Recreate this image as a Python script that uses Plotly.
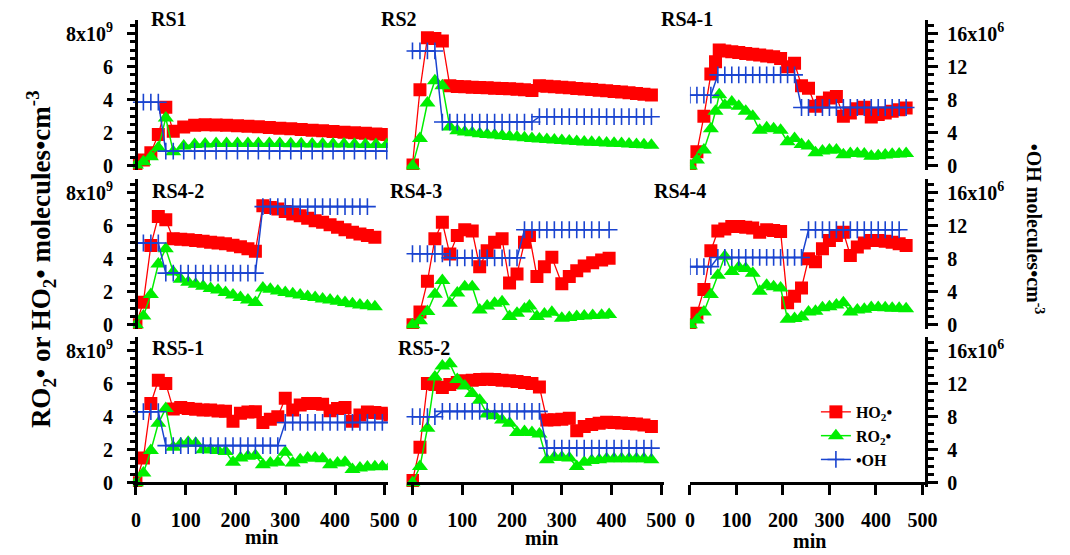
import plotly.graph_objects as go

W, H = 1070, 555

# HO2 and RO2 in units of 1e9 molecules cm-3, OH in units of 1e6 molecules cm-3, time in min

# RS1
rs1_t = [0, 15, 30, 45, 60, 75, 96, 118, 139, 161, 182, 204, 225, 246, 268, 289, 311, 332, 354, 375, 396, 418, 439, 461, 482, 504]
rs1_ho2 = [0.1, 0.35, 0.8, 1.9, 3.55, 2.1, 2.35, 2.45, 2.48, 2.47, 2.45, 2.42, 2.39, 2.36, 2.32, 2.28, 2.24, 2.2, 2.16, 2.12, 2.08, 2.04, 2.0, 1.97, 1.93, 1.9]
rs1_ro2 = [0.05, 0.25, 0.55, 1.1, 2.9, 0.85, 1.2, 1.3, 1.33, 1.35, 1.35, 1.35, 1.35, 1.35, 1.35, 1.35, 1.34, 1.34, 1.33, 1.33, 1.32, 1.32, 1.31, 1.3, 1.3, 1.3]
rs1_t_oh = rs1_t
rs1_oh = [7.7, 7.7, 7.7, 7.7, 1.78, 1.78, 1.78, 1.78, 1.78, 1.78, 1.78, 1.78, 1.78, 1.78, 1.78, 1.78, 1.78, 1.78, 1.78, 1.78, 1.78, 1.78, 1.78, 1.78, 1.78, 1.78]

# RS2
rs2_t = [0, 15, 30, 45, 60, 75, 90, 105, 120, 135, 150, 165, 180, 195, 210, 225, 240, 255, 270, 285, 300, 315, 330, 345, 360, 375, 390, 405, 420, 435, 450, 465, 480]
rs2_ho2 = [0.05, 4.6, 7.75, 7.7, 7.55, 4.85, 4.8, 4.78, 4.76, 4.74, 4.72, 4.7, 4.68, 4.66, 4.63, 4.6, 4.56, 4.85, 4.82, 4.78, 4.75, 4.72, 4.68, 4.65, 4.62, 4.58, 4.54, 4.5, 4.46, 4.42, 4.38, 4.33, 4.28]
rs2_ro2 = [0.0, 1.65, 3.8, 5.15, 4.85, 2.35, 2.12, 2.05, 2.0, 1.95, 1.9, 1.86, 1.82, 1.78, 1.74, 1.7, 1.66, 1.63, 1.6, 1.57, 1.54, 1.51, 1.48, 1.45, 1.43, 1.41, 1.39, 1.37, 1.35, 1.33, 1.3, 1.28, 1.25]
rs2_t_oh = rs2_t
rs2_oh = [13.9, 13.9, 13.9, 13.9, 5.3, 5.3, 5.3, 5.3, 5.3, 5.3, 5.3, 5.3, 5.3, 5.3, 5.3, 5.3, 5.3, 5.95, 5.95, 5.95, 5.95, 5.95, 5.95, 5.95, 5.95, 5.95, 5.95, 5.95, 5.95, 5.95, 5.95, 5.95, 5.95]

# RS4-1
rs41_t = [0, 15, 30, 45, 55, 63, 75, 90, 105, 120, 135, 150, 165, 180, 195, 210, 225, 240, 255, 270, 285, 300, 315, 330, 345, 360, 375, 390, 405, 420, 435, 450, 465]
rs41_ho2 = [0.0, 0.85, 3.0, 5.55, 6.3, 7.0, 6.95, 6.9, 6.85, 6.8, 6.75, 6.7, 6.65, 6.6, 6.5, 6.0, 6.2, 4.85, 4.7, 3.6, 3.85, 4.1, 4.2, 3.0, 3.2, 3.45, 3.55, 2.95, 3.1, 3.2, 3.3, 3.4, 3.5]
rs41_ro2 = [0.0, 0.35, 0.96, 2.25, 3.3, 4.3, 3.67, 3.86, 3.6, 3.3, 3.0, 2.15, 2.3, 2.25, 2.15, 1.46, 1.66, 1.3, 1.2, 0.8, 0.9, 0.96, 0.96, 0.67, 0.75, 0.75, 0.72, 0.58, 0.62, 0.66, 0.7, 0.72, 0.75]
rs41_t_oh = [0, 15, 30, 45, 60, 75, 90, 105, 120, 135, 150, 165, 180, 195, 210, 225, 240, 255, 270, 285, 300, 315, 330, 345, 360, 375, 390, 405, 420, 435, 450, 465]
rs41_oh = [8.55, 8.55, 8.55, 8.55, 11.0, 11.0, 11.0, 11.0, 11.0, 11.0, 11.0, 11.0, 11.0, 11.0, 11.0, 11.0, 7.06, 7.06, 7.06, 7.06, 7.06, 7.06, 7.06, 7.06, 7.06, 7.06, 7.06, 7.06, 7.06, 7.06, 7.06, 7.06]

# RS4-2
rs42_t = [0, 15, 30, 45, 60, 75, 90, 105, 120, 135, 150, 165, 180, 195, 210, 225, 240, 255, 270, 285, 300, 315, 330, 345, 360, 375, 390, 405, 420, 435, 450, 465, 480]
rs42_ho2 = [0.0, 1.37, 4.8, 6.55, 6.35, 5.2, 5.18, 5.15, 5.1, 5.05, 5.0, 4.95, 4.9, 4.82, 4.72, 4.6, 4.45, 7.2, 7.1, 7.0, 6.85, 6.7, 6.6, 6.45, 6.3, 6.2, 6.05, 5.9, 5.75, 5.6, 5.5, 5.4, 5.3]
rs42_ro2 = [0.0, 0.54, 1.83, 3.68, 4.6, 3.2, 2.75, 2.57, 2.45, 2.33, 2.2, 2.1, 1.95, 1.8, 1.65, 1.5, 1.35, 2.23, 2.15, 2.05, 1.95, 1.88, 1.8, 1.72, 1.65, 1.57, 1.5, 1.42, 1.35, 1.28, 1.2, 1.15, 1.1]
rs42_t_oh = [0, 15, 30, 45, 60, 75, 90, 105, 120, 135, 150, 165, 180, 195, 210, 225, 240, 255, 270, 285, 300, 315, 330, 345, 360, 375, 390, 405, 420, 435, 450, 465]
rs42_oh = [9.9, 9.9, 9.9, 9.9, 6.25, 6.25, 6.25, 6.25, 6.25, 6.25, 6.25, 6.25, 6.25, 6.25, 6.25, 6.25, 6.25, 14.3, 14.3, 14.3, 14.3, 14.3, 14.3, 14.3, 14.3, 14.3, 14.3, 14.3, 14.3, 14.3, 14.3, 14.3]

# RS4-3
rs43_t = [0, 15, 30, 45, 60, 75, 90, 105, 120, 135, 150, 165, 180, 195, 210, 225, 235, 250, 265, 280, 300, 315, 330, 345, 362, 380, 395]
rs43_ho2 = [0.0, 0.78, 2.63, 5.2, 6.2, 4.28, 5.4, 5.75, 5.67, 3.52, 4.48, 5.0, 5.2, 2.53, 3.08, 5.0, 5.4, 2.93, 3.52, 4.08, 2.48, 2.93, 3.27, 3.56, 3.76, 3.92, 4.02]
rs43_ro2 = [0.0, 0.25, 0.8, 1.85, 2.68, 1.3, 1.93, 2.3, 2.3, 0.9, 1.14, 1.3, 1.4, 0.5, 0.7, 0.96, 1.14, 0.5, 0.66, 0.76, 0.4, 0.45, 0.5, 0.54, 0.56, 0.58, 0.62]
rs43_t_oh = [0, 15, 30, 45, 60, 75, 90, 105, 120, 135, 150, 165, 180, 195, 210, 225, 240, 255, 270, 285, 300, 315, 330, 345, 360, 375, 395]
rs43_oh = [8.6, 8.6, 8.6, 8.6, 8.6, 8.1, 8.1, 8.1, 8.1, 8.1, 8.1, 8.1, 8.1, 8.1, 8.1, 11.5, 11.5, 11.5, 11.5, 11.5, 11.5, 11.5, 11.5, 11.5, 11.5, 11.5, 11.5]

# RS4-4
rs44_t = [0, 15, 30, 45, 60, 75, 90, 105, 120, 135, 150, 165, 180, 195, 210, 225, 240, 255, 270, 285, 300, 315, 330, 345, 360, 375, 390, 405, 420, 435, 450, 465]
rs44_ho2 = [0.0, 0.7, 2.13, 4.48, 5.67, 5.8, 5.95, 5.95, 5.9, 5.85, 5.6, 5.75, 5.7, 5.65, 1.33, 1.73, 2.23, 4.0, 3.82, 4.6, 5.1, 5.4, 5.6, 4.2, 4.7, 4.95, 5.1, 5.1, 5.05, 5.0, 4.9, 4.8]
rs44_ro2 = [0.0, 0.3, 0.78, 1.83, 3.0, 4.15, 3.22, 3.48, 3.4, 3.12, 2.03, 2.4, 2.3, 2.23, 0.34, 0.38, 0.47, 0.78, 0.82, 1.03, 1.1, 1.2, 1.33, 0.78, 0.9, 0.95, 1.05, 1.05, 1.03, 1.0, 1.0, 0.98]
rs44_t_oh = [0, 15, 30, 45, 60, 75, 90, 105, 120, 135, 150, 165, 180, 195, 210, 225, 240, 255, 270, 285, 300, 315, 330, 345, 360, 375, 390, 405, 420, 435, 450]
rs44_oh = [7.04, 7.04, 7.04, 7.04, 8.15, 8.15, 8.15, 8.15, 8.15, 8.15, 8.15, 8.15, 8.15, 8.15, 8.15, 8.15, 8.15, 11.5, 11.5, 11.5, 11.5, 11.5, 11.5, 11.5, 11.5, 11.5, 11.5, 11.5, 11.5, 11.5, 11.5]

# RS5-1
rs51_t = [0, 15, 30, 45, 60, 75, 90, 105, 120, 135, 150, 165, 180, 195, 210, 225, 240, 255, 270, 285, 300, 315, 330, 345, 360, 375, 390, 405, 420, 435, 450, 465, 480, 495, 510]
rs51_ho2 = [0.0, 1.5, 4.8, 6.2, 6.0, 4.46, 4.55, 4.5, 4.45, 4.4, 4.4, 4.35, 4.33, 3.72, 4.2, 4.28, 4.3, 3.65, 3.85, 4.0, 5.12, 4.4, 4.7, 4.8, 4.8, 4.75, 4.36, 4.5, 4.55, 3.72, 4.1, 4.28, 4.25, 4.2, 4.1]
rs51_ro2 = [0.0, 0.6, 1.95, 3.6, 4.5, 2.15, 2.35, 2.45, 2.4, 2.0, 2.0, 1.95, 1.9, 1.25, 1.5, 1.6, 1.65, 1.1, 1.2, 1.25, 1.85, 1.2, 1.4, 1.5, 1.5, 1.45, 1.1, 1.2, 1.25, 0.8, 0.9, 0.95, 0.97, 0.98, 0.97]
rs51_t_oh = rs51_t
rs51_oh = [8.6, 8.6, 8.6, 8.6, 4.5, 4.5, 4.5, 4.5, 4.5, 4.5, 4.5, 4.5, 4.5, 4.5, 4.5, 4.5, 4.5, 4.5, 4.5, 4.5, 7.3, 7.3, 7.3, 7.3, 7.3, 7.3, 7.3, 7.3, 7.3, 7.3, 7.3, 7.3, 7.3, 7.3, 7.3]

# RS5-2
rs52_t = [0, 15, 30, 45, 60, 75, 90, 105, 120, 135, 150, 165, 180, 195, 210, 225, 240, 255, 270, 285, 300, 315, 330, 345, 360, 375, 390, 405, 420, 435, 450, 465, 480]
rs52_ho2 = [0.14, 2.15, 6.0, 5.95, 5.77, 5.95, 6.07, 6.17, 6.2, 6.25, 6.27, 6.25, 6.2, 6.17, 6.12, 6.07, 6.0, 5.8, 3.8, 3.82, 3.85, 3.9, 3.15, 3.4, 3.52, 3.6, 3.66, 3.65, 3.62, 3.58, 3.55, 3.5, 3.4]
rs52_ro2 = [0.0, 0.98, 3.3, 6.4, 7.07, 7.2, 6.25, 5.85, 5.4, 5.0, 4.16, 4.06, 3.8, 3.6, 3.05, 3.1, 3.05, 2.95, 1.39, 1.55, 1.55, 1.5, 0.98, 1.24, 1.35, 1.4, 1.45, 1.45, 1.45, 1.45, 1.45, 1.45, 1.4]
rs52_t_oh = rs52_t
rs52_oh = [8.0, 8.0, 8.0, 8.0, 8.64, 8.64, 8.64, 8.64, 8.64, 8.64, 8.64, 8.64, 8.64, 8.64, 8.64, 8.64, 8.64, 8.64, 4.2, 4.2, 4.2, 4.2, 4.2, 4.2, 4.2, 4.2, 4.2, 4.2, 4.2, 4.2, 4.2, 4.2, 4.2]

panel_names = ["RS1", "RS2", "RS4-1", "RS4-2", "RS4-3", "RS4-4", "RS5-1", "RS5-2"]
panel_data = [
    (rs1_t, rs1_ho2, rs1_ro2, rs1_t_oh, rs1_oh),
    (rs2_t, rs2_ho2, rs2_ro2, rs2_t_oh, rs2_oh),
    (rs41_t, rs41_ho2, rs41_ro2, rs41_t_oh, rs41_oh),
    (rs42_t, rs42_ho2, rs42_ro2, rs42_t_oh, rs42_oh),
    (rs43_t, rs43_ho2, rs43_ro2, rs43_t_oh, rs43_oh),
    (rs44_t, rs44_ho2, rs44_ro2, rs44_t_oh, rs44_oh),
    (rs51_t, rs51_ho2, rs51_ro2, rs51_t_oh, rs51_oh),
    (rs52_t, rs52_ho2, rs52_ro2, rs52_t_oh, rs52_oh),
]

x_ticks = [0, 100, 200, 300, 400, 500]
left_ticks = [0, 2, 4, 6, 8]
left_text = ["0", "2", "4", "6", "8x10<sup>9</sup>"]
right_ticks = [0, 4, 8, 12, 16]
right_text = ["0", "4", "8", "12", "16x10<sup>6</sup>"]

RED, GREEN, BLUE = "#ff0000", "#00ee00", "#1a44d0"
FONT = "Liberation Serif"

# layout geometry in pixels
col_geom = [(130, 389, [-6, 506]), (408, 670, [-12, 506]), (696, 936, [0, 508])]
row_zero = [168, 329, 489]
PX_PER_UNIT = 16.75
Y_RANGE = [-0.25, 8.8]
OH_RANGE = [2 * Y_RANGE[0], 2 * Y_RANGE[1]]


def px_x(p):
    return p / W


def px_y(p):
    return 1 - p / H


fig = go.Figure()
layout = {}

tickfont = dict(family=FONT, size=20, color="black", weight="bold")

for idx in range(9):
    r, c = divmod(idx, 3)
    n = idx + 1
    xa = "xaxis" if n == 1 else f"xaxis{n}"
    xr = "x" if n == 1 else f"x{n}"
    yl_n, yr_n = 2 * n - 1, 2 * n
    yl = "yaxis" if yl_n == 1 else f"yaxis{yl_n}"
    ylr = "y" if yl_n == 1 else f"y{yl_n}"
    yr = f"yaxis{yr_n}"
    yrr = f"y{yr_n}"

    x0, x1, xrange = col_geom[c]
    z = row_zero[r]
    top = z - Y_RANGE[1] * PX_PER_UNIT
    bot = z - Y_RANGE[0] * PX_PER_UNIT

    xdict = dict(domain=[px_x(x0), px_x(x1)], range=xrange, showgrid=False,
                 zeroline=False, anchor=ylr)
    if r == 2:
        xdict.update(showline=True, linewidth=3, linecolor="black", ticks="outside",
                     ticklen=10, tickwidth=3, tickcolor="black", tickmode="array",
                     tickvals=x_ticks, tickfont=tickfont, ticklabelstandoff=8,
                     anchor="free", position=px_y(z))
    else:
        xdict.update(visible=False)
    layout[xa] = xdict

    ydict = dict(domain=[px_y(bot), px_y(top)], range=Y_RANGE, showgrid=False,
                 zeroline=False, anchor=xr)
    if c == 0:
        ydict.update(showline=True, linewidth=3, linecolor="black", ticks="outside",
                     ticklen=8, tickwidth=3, tickcolor="black", tickmode="array",
                     tickvals=left_ticks, ticktext=left_text, tickfont=tickfont,
                     ticklabelstandoff=10, anchor="free", position=px_x(133),
                     minor=dict(tickmode="linear", tick0=0, dtick=0.5, ticks="outside",
                                ticklen=5, tickwidth=2.5, tickcolor="black"))
    else:
        ydict.update(visible=False)
    layout[yl] = ydict

    rdict = dict(range=OH_RANGE, overlaying=ylr, showgrid=False, zeroline=False,
                 anchor=xr, side="right")
    if c == 2:
        rdict.update(showline=True, linewidth=3, linecolor="black", ticks="outside",
                     ticklen=10, tickwidth=3, tickcolor="black", tickmode="array",
                     tickvals=right_ticks, ticktext=right_text, tickfont=tickfont,
                     ticklabelstandoff=5, anchor="free", position=px_x(936),
                     minor=dict(tickmode="linear", tick0=0, dtick=1, ticks="outside",
                                ticklen=6, tickwidth=2.5, tickcolor="black"))
    else:
        rdict.update(visible=False)
    layout[yr] = rdict

    if idx < 8:
        t, ho2, ro2, t_oh, oh = panel_data[idx]
        first = idx == 0
        fig.add_trace(go.Scatter(
            x=t, y=ho2, xaxis=xr, yaxis=ylr, mode="lines+markers",
            name="HO<sub>2</sub>•", legendgroup="ho2", showlegend=first,
            line=dict(color=RED, width=1.3),
            marker=dict(symbol="square", size=13, color=RED, line=dict(width=0))))
        fig.add_trace(go.Scatter(
            x=t, y=ro2, xaxis=xr, yaxis=ylr, mode="lines+markers",
            name="RO<sub>2</sub>•", legendgroup="ro2", showlegend=first,
            line=dict(color=GREEN, width=1.5),
            marker=dict(symbol="triangle-up", size=14, color=GREEN, line=dict(width=0))))
        fig.add_trace(go.Scatter(
            x=t_oh, y=oh, xaxis=xr, yaxis=yrr, mode="lines+markers",
            name="•OH", legendgroup="oh", showlegend=first,
            line=dict(color=BLUE, width=1.5),
            marker=dict(symbol="cross-thin", size=12, color=BLUE,
                        line=dict(width=1.6, color=BLUE))))
    else:
        # the legend panel holds no data, but its axes still have to be laid out
        fig.add_trace(go.Scatter(x=[], y=[], xaxis=xr, yaxis=ylr, showlegend=False,
                                 hoverinfo="skip"))
        fig.add_trace(go.Scatter(x=[], y=[], xaxis=xr, yaxis=yrr, showlegend=False,
                                 hoverinfo="skip"))

annotations = []
title_pos = [(146, 19), (380, 19), (665, 19), (147, 193), (389, 193), (657, 193),
             (147, 352), (397, 352)]
for name, (px, py) in zip(panel_names, title_pos):
    annotations.append(dict(text=f"<b>{name}</b>", x=px_x(px), y=px_y(py),
                            xref="paper", yref="paper", xanchor="left", yanchor="middle",
                            showarrow=False, font=dict(family=FONT, size=20, color="black")))

for cx, cy in [(261, 544), (545, 545), (817, 548)]:
    annotations.append(dict(text="<b>min</b>", x=px_x(cx), y=px_y(cy), xref="paper",
                            yref="paper", xanchor="center", yanchor="middle",
                            showarrow=False, font=dict(family=FONT, size=20, color="black")))

annotations.append(dict(text="<b>RO<sub>2</sub>• or HO<sub>2</sub>• molecules•cm<sup>-3</sup></b>",
                        x=px_x(36), y=px_y(262), xref="paper", yref="paper",
                        xanchor="center", yanchor="middle", textangle=-90, showarrow=False,
                        font=dict(family=FONT, size=27, color="black")))
annotations.append(dict(text="<b>•OH molecules•cm<sup>-3</sup></b>",
                        x=px_x(1047), y=px_y(232), xref="paper", yref="paper",
                        xanchor="center", yanchor="middle", textangle=90, showarrow=False,
                        font=dict(family=FONT, size=20, color="black")))

fig.update_layout(
    width=W, height=H, margin=dict(l=0, r=0, t=0, b=0),
    paper_bgcolor="white", plot_bgcolor="rgba(0,0,0,0)",
    annotations=annotations,
    legend=dict(x=px_x(824), y=px_y(400), xanchor="left", yanchor="top",
                bgcolor="rgba(0,0,0,0)", itemwidth=30, tracegroupgap=0,
                font=dict(family=FONT, size=16, color="black", weight="bold")),
    **layout,
)

fig.write_html("out.html")
